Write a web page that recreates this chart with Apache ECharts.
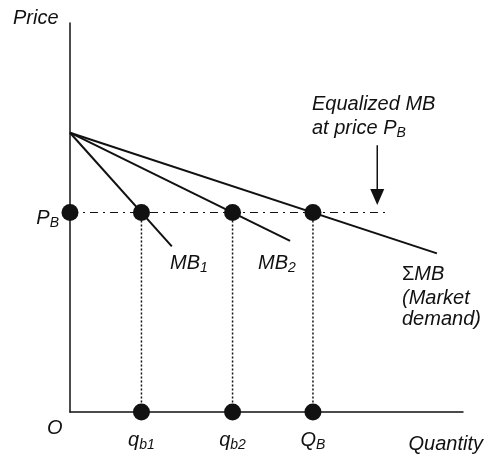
<!DOCTYPE html>
<html><head><meta charset="utf-8">
<script src="https://cdn.jsdelivr.net/npm/echarts@6/dist/echarts.min.js"></script>
<style>html,body{margin:0;padding:0;background:#fff}#c{width:488px;height:454px}</style>
</head><body><div id="c"></div>
<script>
// ---- data ----
const priceIntercept = 5.6;
const priceB = 4;
const quantityTicks = [2, 4.55, 6.8];
const quantityTickLabels = ['{m|q}{s|b1}', '{m|q}{s|b2}', '{m|Q}{s|B}'];
const priceTicks = [4];
const priceTickLabels = ['{m|P}{s|B}'];
const mb1 = [[0, 5.6], [2.85, 3.32]];
const mb2 = [[0, 5.6], [6.16, 3.43]];
const sumMB = [[0, 5.6], [10.27, 3.18]];
const priceLine = [[0, 4], [8.9, 4]];
const arrowShaft = [[8.6, 5.35], [8.6, 4.3]];
const arrowHead = [[8.6, 4.31]];
const dots = [[0, 4], [2, 4], [4.55, 4], [6.8, 4], [2, 0], [4.55, 0], [6.8, 0]];
const drop1 = [[2, 4], [2, 0]];
const drop2 = [[4.55, 4], [4.55, 0]];
const drop3 = [[6.8, 4], [6.8, 0]];

const subRich = {
  m: { fontFamily: 'Liberation Sans', fontStyle: 'italic', fontSize: 20, color: '#111' },
  u: { fontFamily: 'Liberation Sans', fontStyle: 'normal', fontSize: 20, color: '#111' },
  s: { fontFamily: 'Liberation Sans', fontStyle: 'italic', fontSize: 14, color: '#111', padding: [10, 0, 0, 0] }
};

function fontStyleOf() {
  return { font: 'italic 20px "Liberation Sans"', fill: '#111' };
}

const chart = echarts.init(document.getElementById('c'), null, { renderer: 'canvas' });

function lineSeries(data, style) {
  return { type: 'line', data: data, symbol: 'none', silent: true, animation: false,
           lineStyle: Object.assign({ color: '#111', width: 2, opacity: 1 }, style) };
}

chart.setOption({
  animation: false,
  backgroundColor: '#fff',
  grid: { left: 70, right: 25, top: 23, bottom: 42 },
  xAxis: {
    type: 'value', min: 0, max: 11,
    axisLine: { show: true, lineStyle: { color: '#111', width: 1.5 } },
    axisTick: { show: false }, splitLine: { show: false }, axisLabel: { show: false }
  },
  yAxis: {
    type: 'value', min: 0, max: 7.8,
    axisLine: { show: true, lineStyle: { color: '#111', width: 1.5 } },
    axisTick: { show: false }, splitLine: { show: false }, axisLabel: { show: false }
  },
  series: [
    lineSeries(priceLine, { width: 1.2, type: [8, 5, 2, 5] }),
    lineSeries(drop1, { width: 1.5, type: [2, 2] }),
    lineSeries(drop2, { width: 1.5, type: [2, 2] }),
    lineSeries(drop3, { width: 1.5, type: [2, 2] }),
    lineSeries(mb1, {}),
    lineSeries(mb2, {}),
    lineSeries(sumMB, {}),
    lineSeries(arrowShaft, { width: 1.5 }),
    { type: 'scatter', data: arrowHead, symbol: 'triangle', symbolRotate: 180, symbolSize: [14, 16],
      itemStyle: { color: '#111', opacity: 1 }, silent: true, clip: false },
    { type: 'scatter', data: dots, symbol: 'circle', symbolSize: 17,
      itemStyle: { color: '#111', opacity: 1 }, silent: true, clip: false, z: 5 }
  ]
});

// tick labels placed at the axis values through the chart's own scales
const tickGraphics = [];
quantityTicks.forEach((q, i) => {
  const p = chart.convertToPixel({ gridIndex: 0 }, [q, 0]);
  tickGraphics.push({ type: 'text', x: p[0], y: p[1] + 16,
    style: Object.assign({ text: quantityTickLabels[i], rich: subRich, align: 'center', verticalAlign: 'top' }, fontStyleOf()) });
});
priceTicks.forEach((v, i) => {
  const p = chart.convertToPixel({ gridIndex: 0 }, [0, v]);
  tickGraphics.push({ type: 'text', x: p[0] - 11, y: p[1] - 6,
    style: Object.assign({ text: priceTickLabels[i], rich: subRich, align: 'right', verticalAlign: 'top' }, fontStyleOf()) });
});

chart.setOption({
  graphic: tickGraphics.concat([
    { type: 'text', left: 13, top: 8, style: Object.assign({ text: 'Price' }, fontStyleOf()) },
    { type: 'text', right: 5, top: 434, style: Object.assign({ text: 'Quantity' }, fontStyleOf()) },
    { type: 'text', left: 47, top: 418, style: Object.assign({ text: 'O' }, fontStyleOf()) },
    { type: 'text', left: 312, top: 94, style: Object.assign({ text: 'Equalized MB' }, fontStyleOf()) },
    { type: 'text', left: 312, top: 118, style: Object.assign({ text: '{m|at price P}{s|B}', rich: subRich }, fontStyleOf()) },
    { type: 'text', left: 170, top: 253, style: Object.assign({ text: '{m|MB}{s|1}', rich: subRich }, fontStyleOf()) },
    { type: 'text', left: 258, top: 253, style: Object.assign({ text: '{m|MB}{s|2}', rich: subRich }, fontStyleOf()) },
    { type: 'text', left: 402, top: 264, style: Object.assign({ text: '{u|Σ}{m|MB}', rich: subRich }, fontStyleOf()) },
    { type: 'text', left: 402, top: 288, style: Object.assign({ text: '(Market' }, fontStyleOf()) },
    { type: 'text', left: 402, top: 309, style: Object.assign({ text: 'demand)' }, fontStyleOf()) }
  ])
});
</script></body></html>
